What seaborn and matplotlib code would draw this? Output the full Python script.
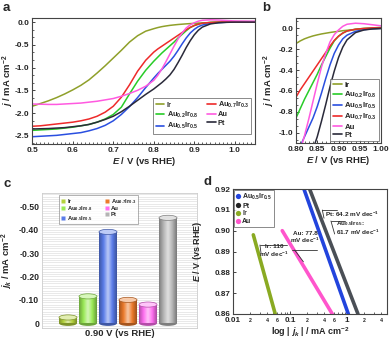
import numpy as np
import pandas as pd
import matplotlib
matplotlib.use("Agg")
import matplotlib.pyplot as plt
import seaborn as sns
from matplotlib.lines import Line2D
from matplotlib.patches import Ellipse
from matplotlib.colors import LinearSegmentedColormap, to_rgb
from matplotlib.ticker import MultipleLocator, AutoMinorLocator, FuncFormatter, LogLocator

# ---------------- data ----------------
samples = ["Ir", "Au0.2Ir0.8", "Au0.5Ir0.5", "Au0.7Ir0.3", "Au", "Pt"]
sample_labels = ["Ir", r"Au$_{0.2}$Ir$_{0.8}$", r"Au$_{0.5}$Ir$_{0.5}$",
                 r"Au$_{0.7}$Ir$_{0.3}$", "Au", "Pt"]

E_lsv = [0.50, 0.52, 0.54, 0.56, 0.58, 0.60, 0.62, 0.64, 0.66, 0.68, 0.70, 0.72, 0.74, 0.76, 0.78, 0.80,
         0.81, 0.82, 0.83, 0.84, 0.85, 0.86, 0.87, 0.88, 0.89, 0.90, 0.91, 0.92,
         0.94, 0.96, 0.98, 1.00, 1.05]
j_Ir = [-1.85, -1.79, -1.73, -1.66, -1.58, -1.49, -1.39, -1.27, -1.12, -0.96, -0.79, -0.62, -0.44, -0.30, -0.20, -0.145,
        -0.12, -0.10, -0.085, -0.072, -0.062, -0.053, -0.046, -0.039, -0.033, -0.028, -0.022, -0.018,
        -0.010, -0.005, -0.002, 0.0, 0.0]
j_Au02Ir08 = [-2.38, -2.37, -2.36, -2.35, -2.33, -2.31, -2.28, -2.25, -2.20, -2.13, -2.03, -1.87, -1.58, -1.30, -1.06, -0.86,
              -0.77, -0.68, -0.60, -0.52, -0.44, -0.35, -0.27, -0.19, -0.12, -0.075, -0.045, -0.025,
              -0.008, 0.0, 0.005, 0.01, 0.01]
j_Au05Ir05 = [-2.52, -2.51, -2.50, -2.49, -2.47, -2.45, -2.43, -2.39, -2.34, -2.27, -2.17, -2.03, -1.86, -1.66, -1.44, -1.23,
              -1.13, -1.04, -0.95, -0.86, -0.75, -0.62, -0.48, -0.35, -0.24, -0.16, -0.10, -0.065,
              -0.028, -0.012, -0.003, 0.0, 0.0]
j_Au07Ir03 = [-2.29, -2.28, -2.26, -2.24, -2.22, -2.20, -2.17, -2.13, -2.07, -1.98, -1.85, -1.65, -1.38, -1.08, -0.84, -0.66,
              -0.59, -0.53, -0.47, -0.41, -0.35, -0.29, -0.23, -0.17, -0.115, -0.075, -0.045, -0.025,
              -0.008, 0.0, 0.005, 0.005, 0.005]
j_Au = [-1.80, -1.805, -1.81, -1.81, -1.80, -1.79, -1.78, -1.76, -1.74, -1.71, -1.68, -1.63, -1.57, -1.50, -1.41, -1.28,
        -1.17, -1.03, -0.87, -0.70, -0.53, -0.37, -0.24, -0.13, -0.06, -0.015, 0.02, 0.04,
        0.05, 0.045, 0.035, 0.025, 0.02]
j_Pt = [-2.35, -2.345, -2.34, -2.33, -2.32, -2.30, -2.28, -2.25, -2.20, -2.14, -2.07, -1.97, -1.85, -1.72, -1.59, -1.47,
        -1.40, -1.33, -1.25, -1.16, -1.04, -0.89, -0.73, -0.56, -0.41, -0.28, -0.18, -0.11,
        -0.04, -0.015, -0.005, 0.0, 0.0]

# kinetic current density at 0.90 V
jk_090 = [-0.025, -0.115, -0.39, -0.10, -0.08, -0.45]

# Tafel lines
tafel_samples = ["Au0.5Ir0.5", "Pt", "Ir", "Au"]
tafel_labels = [r"Au$_{0.5}$Ir$_{0.5}$", "Pt", "Ir", "Au"]
jk_Au05Ir05 = [0.175, 1.05]
E_Au05Ir05 = [0.92, 0.86]
jk_Pt = [0.22, 1.55]
E_Pt = [0.92, 0.86]
jk_Ir = [0.0227, 0.055]
E_Ir = [0.898, 0.86]
jk_Au = [0.073, 0.55]
E_Au = [0.90, 0.86]
tafel_notes = ["Pt: 64.2 mV dec$^{-1}$", "Au$_{0.5}$Ir$_{0.5}$:\n61.7 mV dec$^{-1}$",
               "Au: 77.8\nmV dec$^{-1}$", "Ir: 110\nmV dec$^{-1}$"]

# ---------------- style ----------------
sns.set_theme(style="ticks")
plt.rcParams.update({
    "font.family": ["Liberation Sans", "DejaVu Sans"],
    "font.weight": "bold",
    "axes.labelweight": "bold",
    "mathtext.fontset": "custom",
    "mathtext.rm": "Liberation Sans:bold",
    "mathtext.it": "Liberation Sans:italic:bold",
    "mathtext.bf": "Liberation Sans:bold",
    "axes.linewidth": 0.8,
    "axes.edgecolor": "#444444",
    "xtick.direction": "in",
    "ytick.direction": "in",
    "xtick.major.size": 2.5,
    "ytick.major.size": 2.5,
    "xtick.minor.size": 1.3,
    "ytick.minor.size": 1.3,
    "xtick.major.width": 0.6,
    "ytick.major.width": 0.6,
    "xtick.minor.width": 0.5,
    "ytick.minor.width": 0.5,
    "xtick.major.pad": 2,
    "ytick.major.pad": 2,
})

line_colors = {"Ir": "#8fa02a", "Au0.2Ir0.8": "#28cc28", "Au0.5Ir0.5": "#2a4fe0",
               "Au0.7Ir0.3": "#ee2a2a", "Au": "#ff5ae0", "Pt": "#2a2a3a"}
bar_colors = {"Ir": "#b4d23c", "Au0.2Ir0.8": "#9aea55", "Au0.5Ir0.5": "#5a7cea",
              "Au0.7Ir0.3": "#ec7a2a", "Au": "#ff6ef0", "Pt": "#b4b4b4"}
tafel_colors = {"Au0.5Ir0.5": "#2244dd", "Pt": "#4a4f56", "Ir": "#8aaa22", "Au": "#ff55cc"}

fig = plt.figure(figsize=(3.91, 3.44), dpi=100)
W, H = 391.0, 344.0


def add_ax(x0, y0, x1, y1):
    return fig.add_axes([x0 / W, 1 - y1 / H, (x1 - x0) / W, (y1 - y0) / H])


lsv = pd.concat([pd.DataFrame({"E": E_lsv, "j": jj, "sample": s})
                 for s, jj in zip(samples, [j_Ir, j_Au02Ir08, j_Au05Ir05, j_Au07Ir03, j_Au, j_Pt])])

tick_fs = 6.0
lab_fs = 6.8

# ---------------- panel a ----------------
axa = add_ax(32.3, 18, 255, 144)
sns.lineplot(data=lsv, x="E", y="j", hue="sample", hue_order=samples, palette=line_colors,
             estimator=None, sort=False, legend=False, lw=1.1, ax=axa)
axa.set_xlim(0.5, 1.05)
axa.set_ylim(-2.68, 0.09)
axa.xaxis.set_major_locator(MultipleLocator(0.1))
axa.xaxis.set_minor_locator(MultipleLocator(0.01))
axa.yaxis.set_major_locator(MultipleLocator(0.5))
axa.yaxis.set_minor_locator(AutoMinorLocator(3))
axa.xaxis.set_major_formatter(FuncFormatter(lambda v, p: f"{v:.1f}"))
axa.yaxis.set_major_formatter(FuncFormatter(lambda v, p: "0.0" if abs(v) < 1e-9 else f"{v:.1f}"))
axa.tick_params(labelsize=tick_fs)
axa.set_xlabel(r"$E$ / V (vs RHE)", fontsize=lab_fs, labelpad=1)
axa.set_ylabel(r"$j$ / mA cm$^{-2}$", fontsize=lab_fs)
axa.yaxis.set_label_coords(-0.072, 0.5)
h_a = [Line2D([0], [0], color=line_colors[s], lw=1.2) for s in samples]
leg = axa.legend(h_a, sample_labels, ncol=2, loc="lower right", bbox_to_anchor=(0.99, 0.07),
                 fontsize=5.3, frameon=True, fancybox=False, handlelength=1.2, handletextpad=0.3,
                 columnspacing=1.2, labelspacing=0.15, borderpad=0.3, borderaxespad=0.2)
leg.get_frame().set_edgecolor("#555555")
leg.get_frame().set_linewidth(0.6)

# ---------------- panel b ----------------
axb = add_ax(296, 18, 381, 143)
sns.lineplot(data=lsv, x="E", y="j", hue="sample", hue_order=samples, palette=line_colors,
             estimator=None, sort=False, legend=False, lw=1.1, ax=axb)
axb.set_xlim(0.8, 1.0)
axb.set_ylim(-1.1, 0.1)
axb.xaxis.set_major_locator(MultipleLocator(0.05))
axb.xaxis.set_minor_locator(MultipleLocator(0.01))
axb.yaxis.set_major_locator(MultipleLocator(0.2))
axb.yaxis.set_minor_locator(AutoMinorLocator(3))
axb.xaxis.set_major_formatter(FuncFormatter(lambda v, p: f"{v:.2f}"))
axb.yaxis.set_major_formatter(FuncFormatter(lambda v, p: "0.0" if abs(v) < 1e-9 else f"{v:.1f}"))
axb.tick_params(labelsize=tick_fs)
axb.set_xlabel(r"$E$ / V (vs RHE)", fontsize=lab_fs, labelpad=1)
axb.set_ylabel(r"$j$ / mA cm$^{-2}$", fontsize=lab_fs)
axb.yaxis.set_label_coords(-0.224, 0.5)
legb = axb.legend(h_a, sample_labels, ncol=1, loc="lower right", bbox_to_anchor=(1.0, 0.0),
                  fontsize=5.6, frameon=True, fancybox=False, handlelength=1.2, handletextpad=0.3,
                  labelspacing=0.12, borderpad=0.3, borderaxespad=0.2)
legb.get_frame().set_edgecolor("#555555")
legb.get_frame().set_linewidth(0.6)

# ---------------- panel c ----------------
axc = add_ax(42, 193, 197, 328)
dfc = pd.DataFrame({"sample": samples, "jk": jk_090})
sns.barplot(data=dfc, x="sample", y="jk", hue="sample", order=samples, hue_order=samples,
            palette=bar_colors, saturation=1, width=0.9, legend=False, ax=axc,
            edgecolor="none", linewidth=0)
xl = (-1.3, 6.45)
yl = (0.02, -0.556)
cap_h = 0.022
for p, s in zip(axc.patches, samples):
    col = np.array(to_rgb(bar_colors[s]))
    dark = col * 0.7
    light = col + (1 - col) * 0.6
    x0, w, h = p.get_x(), p.get_width(), p.get_height()
    cm = LinearSegmentedColormap.from_list("cyl", [dark, col, light, col, dark * 0.95])
    im = axc.imshow(np.linspace(0, 1, 64).reshape(1, -1), extent=[x0, x0 + w, 0, h], cmap=cm,
                    aspect="auto", interpolation="bicubic", zorder=p.get_zorder() + 0.05)
    im.set_clip_path(p)
    axc.add_patch(Ellipse((x0 + w / 2, 0), w, cap_h, facecolor=dark, edgecolor="none",
                          zorder=p.get_zorder() - 0.05))
    axc.add_patch(Ellipse((x0 + w / 2, h), w, cap_h, facecolor=light, edgecolor=dark,
                          lw=0.5, zorder=p.get_zorder() + 0.1))
axc.set_xlim(*xl)
axc.set_yticks([0, -0.1, -0.2, -0.3, -0.4, -0.5])
axc.yaxis.set_minor_locator(MultipleLocator(0.01))
axc.yaxis.set_major_formatter(FuncFormatter(lambda v, p: "0" if abs(v) < 1e-9 else f"{v:.2f}"))
axc.set_ylim(*yl)
axc.grid(True, which="both", axis="y", color="#d9d9d9", lw=0.4)
axc.set_axisbelow(True)
axc.set_xticks([])
axc.tick_params(axis="y", which="both", length=0, labelsize=6.2, pad=2)
for sp in axc.spines.values():
    sp.set_color("#cccccc")
    sp.set_linewidth(0.6)
axc.set_xlabel("0.90 V (vs RHE)", fontsize=6.8, labelpad=1)
axc.set_ylabel(r"$j_k$ / mA cm$^{-2}$", fontsize=lab_fs)
axc.yaxis.set_label_coords(-0.175, 0.5)
h_c = [Line2D([0], [0], marker="s", ls="none", markersize=3.2, markerfacecolor=bar_colors[s],
              markeredgecolor="none") for s in samples]
legc = axc.legend(h_c, sample_labels, ncol=2, loc="upper left", bbox_to_anchor=(0.11, 0.985),
                  fontsize=4.2, frameon=True, fancybox=False, handlelength=0.8, handletextpad=0.3,
                  columnspacing=2.0, labelspacing=0.1, borderpad=0.3, borderaxespad=0.0)
legc.get_frame().set_edgecolor("#777777")
legc.get_frame().set_linewidth(0.5)

# ---------------- panel d ----------------
axd = add_ax(233, 189, 387, 314)
tafel = pd.concat([pd.DataFrame({"jk": x, "E": e, "sample": s}) for s, x, e in zip(
    tafel_samples, [jk_Au05Ir05, jk_Pt, jk_Ir, jk_Au], [E_Au05Ir05, E_Pt, E_Ir, E_Au])])
sns.lineplot(data=tafel, x="jk", y="E", hue="sample", hue_order=tafel_samples, palette=tafel_colors,
             estimator=None, sort=False, legend=False, lw=2.6, ax=axd)
axd.set_xscale("log")
axd.set_xlim(0.01, 5)
axd.set_ylim(0.86, 0.92)
axd.yaxis.set_major_locator(MultipleLocator(0.01))
axd.yaxis.set_major_formatter(FuncFormatter(lambda v, p: f"{v:.2f}"))
axd.xaxis.set_major_locator(LogLocator(base=10, numticks=10))
axd.xaxis.set_major_formatter(FuncFormatter(lambda v, p: f"{v:g}"))
axd.xaxis.set_minor_locator(LogLocator(base=10, subs=np.arange(2, 10), numticks=20))


def minor_fmt(v, p):
    m = v / 10 ** np.floor(np.log10(v) + 1e-9)
    r = int(round(m))
    return str(r) if r in (2, 4, 6) and abs(m - r) < 1e-6 else ""


axd.xaxis.set_minor_formatter(FuncFormatter(minor_fmt))
axd.tick_params(axis="both", which="major", labelsize=5.9)
axd.tick_params(axis="x", which="minor", labelsize=3.8, pad=3)
axd.set_xlabel(r"log | $j_k$ | / mA cm$^{-2}$", fontsize=6.5, labelpad=1)
axd.set_ylabel(r"$E$ / V (vs RHE)", fontsize=6.5)
axd.yaxis.set_label_coords(-0.19, 0.5)
h_d = [Line2D([0], [0], marker="o", ls="none", markersize=3.8, markerfacecolor=tafel_colors[s],
              markeredgecolor="none") for s in tafel_samples]
h_d[1] = Line2D([0], [0], marker="o", ls="none", markersize=3.8, markerfacecolor="#222222",
                markeredgecolor="none")
legd = axd.legend(h_d, tafel_labels, loc="upper left", fontsize=5.0, frameon=True, fancybox=False,
                  handlelength=0.6, handletextpad=0.3, labelspacing=0.1, borderpad=0.25,
                  borderaxespad=0.15)
legd.get_frame().set_edgecolor("#555555")
legd.get_frame().set_linewidth(0.6)

tr = axd.transAxes
bk = dict(color="#333333", lw=0.6, transform=tr)
# Pt note
axd.plot([0.580, 0.673], [0.832, 0.832], **bk)
axd.plot([0.580, 0.591], [0.832, 0.766], **bk)
axd.text(0.600, 0.795, tafel_notes[0], transform=tr, fontsize=4.6, ha="left", va="center")
# Au0.5Ir0.5 note
axd.plot([0.636, 0.727], [0.744, 0.744], **bk)
axd.plot([0.636, 0.660], [0.744, 0.640], **bk)
axd.text(0.672, 0.690, tafel_notes[1], transform=tr, fontsize=4.6, ha="left", va="center",
         linespacing=1.0)
# Au note
axd.text(0.468, 0.610, tafel_notes[2], transform=tr, fontsize=4.6, ha="center", va="center",
         linespacing=1.0)
axd.plot([0.381, 0.544], [0.512, 0.512], **bk)
axd.plot([0.400, 0.457], [0.512, 0.418], **bk)
# Ir note
axd.plot([0.175, 0.349], [0.552, 0.552], **bk)
axd.plot([0.175, 0.182], [0.552, 0.486], **bk)
axd.text(0.268, 0.500, tafel_notes[3], transform=tr, fontsize=4.6, ha="center", va="center",
         linespacing=1.0)

# panel letters
for lt, x, y in [("a", 3, 2), ("b", 262, 2), ("c", 3, 178), ("d", 203, 176)]:
    fig.text(x / W, 1 - y / H, lt, fontsize=9.5, fontweight="bold", va="top", ha="left")

fig.savefig("out.png", dpi=100)
